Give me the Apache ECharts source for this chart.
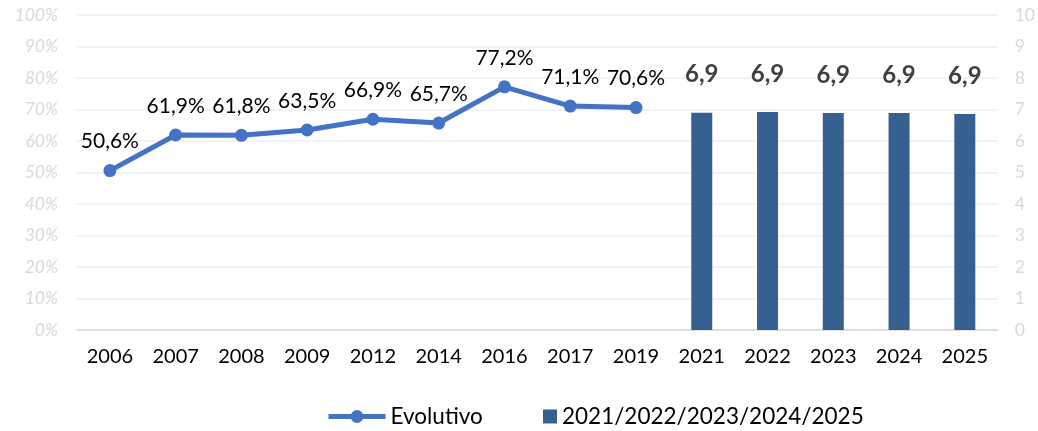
<!DOCTYPE html>
<html>
<head>
<meta charset="utf-8">
<script src="https://cdn.jsdelivr.net/npm/echarts@6/dist/echarts.min.js"></script>
<style>html,body{margin:0;padding:0;background:#fff}#c{width:1038px;height:431px}</style>
</head>
<body>
<div id="c"></div>
<script>
const categories = ['2006','2007','2008','2009','2012','2014','2016','2017','2019','2021','2022','2023','2024','2025'];
const lineValues = [50.6, 61.9, 61.8, 63.5, 66.9, 65.7, 77.2, 71.1, 70.6, null, null, null, null, null];
const barValues = [null, null, null, null, null, null, null, null, null, 6.9, 6.92, 6.89, 6.89, 6.86];
const lineName = 'Evolutivo';
const barName = '2021/2022/2023/2024/2025';

const chart = echarts.init(document.getElementById('c'));
chart.setOption({
  animation: false,
  textStyle: { fontFamily: 'Lato' },
  grid: { left: 77, right: 38, top: 15, bottom: 101 },
  legend: [
    {
      left: 321, top: 400,
      itemWidth: 57, itemHeight: 16, itemGap: 4,
      textStyle: { fontFamily: 'Lato', fontSize: 22.5, color: '#000' },
      lineStyle: { width: 5 },
      data: [{ name: lineName }]
    },
    {
      left: 538, top: 400,
      itemWidth: 14, itemHeight: 14, itemGap: 4,
      textStyle: { fontFamily: 'Lato', fontSize: 22.5, color: '#000' },
      data: [{ name: barName, icon: 'rect' }]
    }
  ],
  xAxis: {
    type: 'category',
    data: categories,
    axisLine: { lineStyle: { color: '#d9d9d9', width: 1.5 } },
    axisTick: { show: false },
    axisLabel: { color: '#000', fontSize: 20, fontFamily: 'Lato', margin: 17 }
  },
  yAxis: [
    {
      type: 'value', min: 0, max: 100, interval: 10,
      axisLine: { show: false }, axisTick: { show: false },
      axisLabel: { formatter: '{value}%', color: '#d9d9d9', fontSize: 17.5, fontStyle: 'italic', fontFamily: 'Lato', margin: 19 },
      splitLine: { lineStyle: { color: '#efefef', width: 1.5 } }
    },
    {
      type: 'value', min: 0, max: 10, interval: 1,
      axisLine: { show: false }, axisTick: { show: false },
      axisLabel: { color: '#d9d9d9', fontSize: 17.5, fontFamily: 'Lato', margin: 17 },
      splitLine: { show: false }
    }
  ],
  series: [
    {
      name: lineName, type: 'line', yAxisIndex: 0, data: lineValues,
      symbol: 'circle', symbolSize: 13,
      lineStyle: { color: '#4472C4', width: 5 },
      itemStyle: { color: '#4472C4' },
      label: {
        show: true, position: 'top', distance: 12,
        color: '#000', fontSize: 21, fontFamily: 'Lato',
        formatter: p => p.value.toFixed(1).replace('.', ',') + '%'
      }
    },
    {
      name: barName, type: 'bar', yAxisIndex: 1, data: barValues,
      barWidth: 21, barGap: '-100%',
      itemStyle: { color: '#36608F' },
      label: {
        show: true, position: 'top', distance: 26,
        color: '#404040', fontSize: 24, fontWeight: 'bold', fontFamily: 'Lato',
        formatter: p => p.value.toFixed(1).replace('.', ',')
      }
    }
  ]
});
</script>
</body>
</html>
